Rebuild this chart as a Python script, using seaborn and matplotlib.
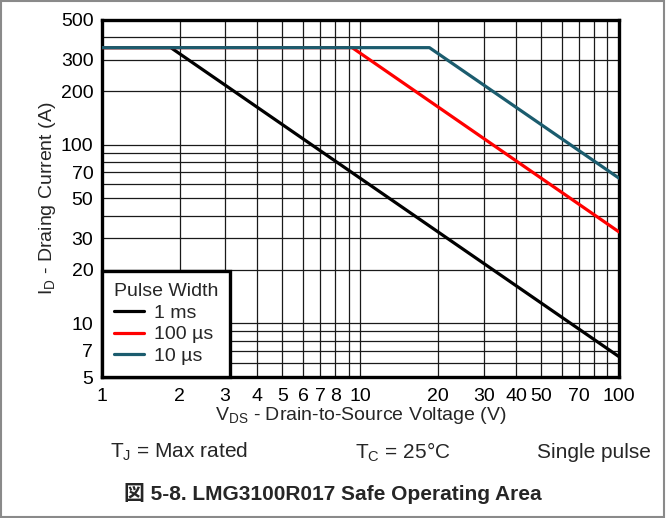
import matplotlib
matplotlib.use("Agg")
import matplotlib.pyplot as plt
import matplotlib.ticker as mticker
from matplotlib.patches import Rectangle
import seaborn as sns
import pandas as pd

# ---- data ----
series_names = ["1 ms", "100 \u00b5s", "10 \u00b5s"]
voltage_1ms = [1, 1.85, 100]
current_1ms = [350, 350, 6.5]
voltage_100us = [1, 9.3, 100]
current_100us = [350, 350, 32.5]
voltage_10us = [1, 18.5, 100]
current_10us = [350, 350, 65]
series_colors = ["#000000", "#ff0000", "#1b5c6e"]

x_ticks = [1, 2, 3, 4, 5, 6, 7, 8, 10, 20, 30, 40, 50, 70, 100]
y_ticks = [5, 7, 10, 20, 30, 50, 70, 100, 200, 300, 500]

rows = []
for name, xs, ys in zip(series_names,
                        [voltage_1ms, voltage_100us, voltage_10us],
                        [current_1ms, current_100us, current_10us]):
    for xv, yv in zip(xs, ys):
        rows.append({"Pulse Width": name, "V": xv, "I": yv})
df = pd.DataFrame(rows)

sns.set_style("white")
plt.rcParams["font.family"] = ["Liberation Sans", "Noto Sans CJK JP", "DejaVu Sans"]
plt.rcParams["mathtext.fontset"] = "custom"
plt.rcParams["mathtext.rm"] = "Liberation Sans"
plt.rcParams["mathtext.it"] = "Liberation Sans:italic"
plt.rcParams["mathtext.bf"] = "Liberation Sans:bold"

fig = plt.figure(figsize=(6.66, 5.18), dpi=100)
ax = fig.add_axes([0.1527, 0.2722, 0.9294 - 0.1527, 0.9614 - 0.2722])

sns.lineplot(data=df, x="V", y="I", hue="Pulse Width", hue_order=series_names,
             palette=series_colors, linewidth=2.3, ax=ax, estimator=None,
             sort=False, zorder=3)

ax.set_xscale("log")
ax.set_yscale("log")
ax.set_xlim(1, 100)
ax.set_ylim(5, 500)

ax.xaxis.set_major_locator(mticker.LogLocator(base=10, subs=range(1, 10), numticks=50))
ax.yaxis.set_major_locator(mticker.LogLocator(base=10, subs=range(1, 10), numticks=50))
ax.xaxis.set_minor_locator(mticker.NullLocator())
ax.yaxis.set_minor_locator(mticker.NullLocator())

def xfmt(v, pos):
    return "%g" % v if any(abs(v - t) < 1e-6 * t for t in x_ticks) else ""

def yfmt(v, pos):
    return "%g" % v if any(abs(v - t) < 1e-6 * t for t in y_ticks) else ""

ax.xaxis.set_major_formatter(mticker.FuncFormatter(xfmt))
ax.yaxis.set_major_formatter(mticker.FuncFormatter(yfmt))
ax.tick_params(axis="both", which="both", length=0, labelsize=14, colors="black")
ax.tick_params(axis="x", pad=8)
ax.tick_params(axis="y", pad=6)

ax.grid(True, which="major", color="#1a1a1a", linewidth=0.9)
ax.set_axisbelow(True)
for sp in ax.spines.values():
    sp.set_visible(True)
    sp.set_color("black")
    sp.set_linewidth(2.4)

ax.set_xlabel(r"V$_{\mathregular{DS}}$ - Drain-to-Source Voltage (V)", fontsize=14, labelpad=0)
ax.set_ylabel(r"I$_{\mathregular{D}}$ - Draing Current (A)", fontsize=14, labelpad=2)

leg = ax.legend(title="Pulse Width", loc="lower left", bbox_to_anchor=(0, 0),
                borderaxespad=0, fancybox=False, framealpha=1, edgecolor="black",
                fontsize=14, title_fontsize=14, handlelength=1.55,
                handletextpad=0.5, labelspacing=0.2, borderpad=0.62,
                alignment="left")
leg.get_frame().set_linewidth(2.4)
leg.set_zorder(5)

fig.text(110 / 666, 1 - 452 / 518, r"T$_{\mathregular{J}}$ = Max rated", fontsize=15,
         ha="left", va="center")
fig.text(355 / 666, 1 - 452 / 518, r"T$_{\mathregular{C}}$ = 25°C", fontsize=15,
         ha="left", va="center")
fig.text(651 / 666, 1 - 452 / 518, "Single pulse", fontsize=15,
         ha="right", va="center")
fig.text(333 / 666, 1 - 493 / 518, "図 5-8. LMG3100R017 Safe Operating Area",
         fontsize=15, fontweight="bold", ha="center", va="center",
         family=["Liberation Sans", "Noto Sans CJK JP"])

fig.patches.append(Rectangle((0.0015, 0.002), 0.996, 0.996, transform=fig.transFigure,
                             fill=False, edgecolor="#8a8a8a", linewidth=1.5))

fig.savefig("out.png", dpi=100)
